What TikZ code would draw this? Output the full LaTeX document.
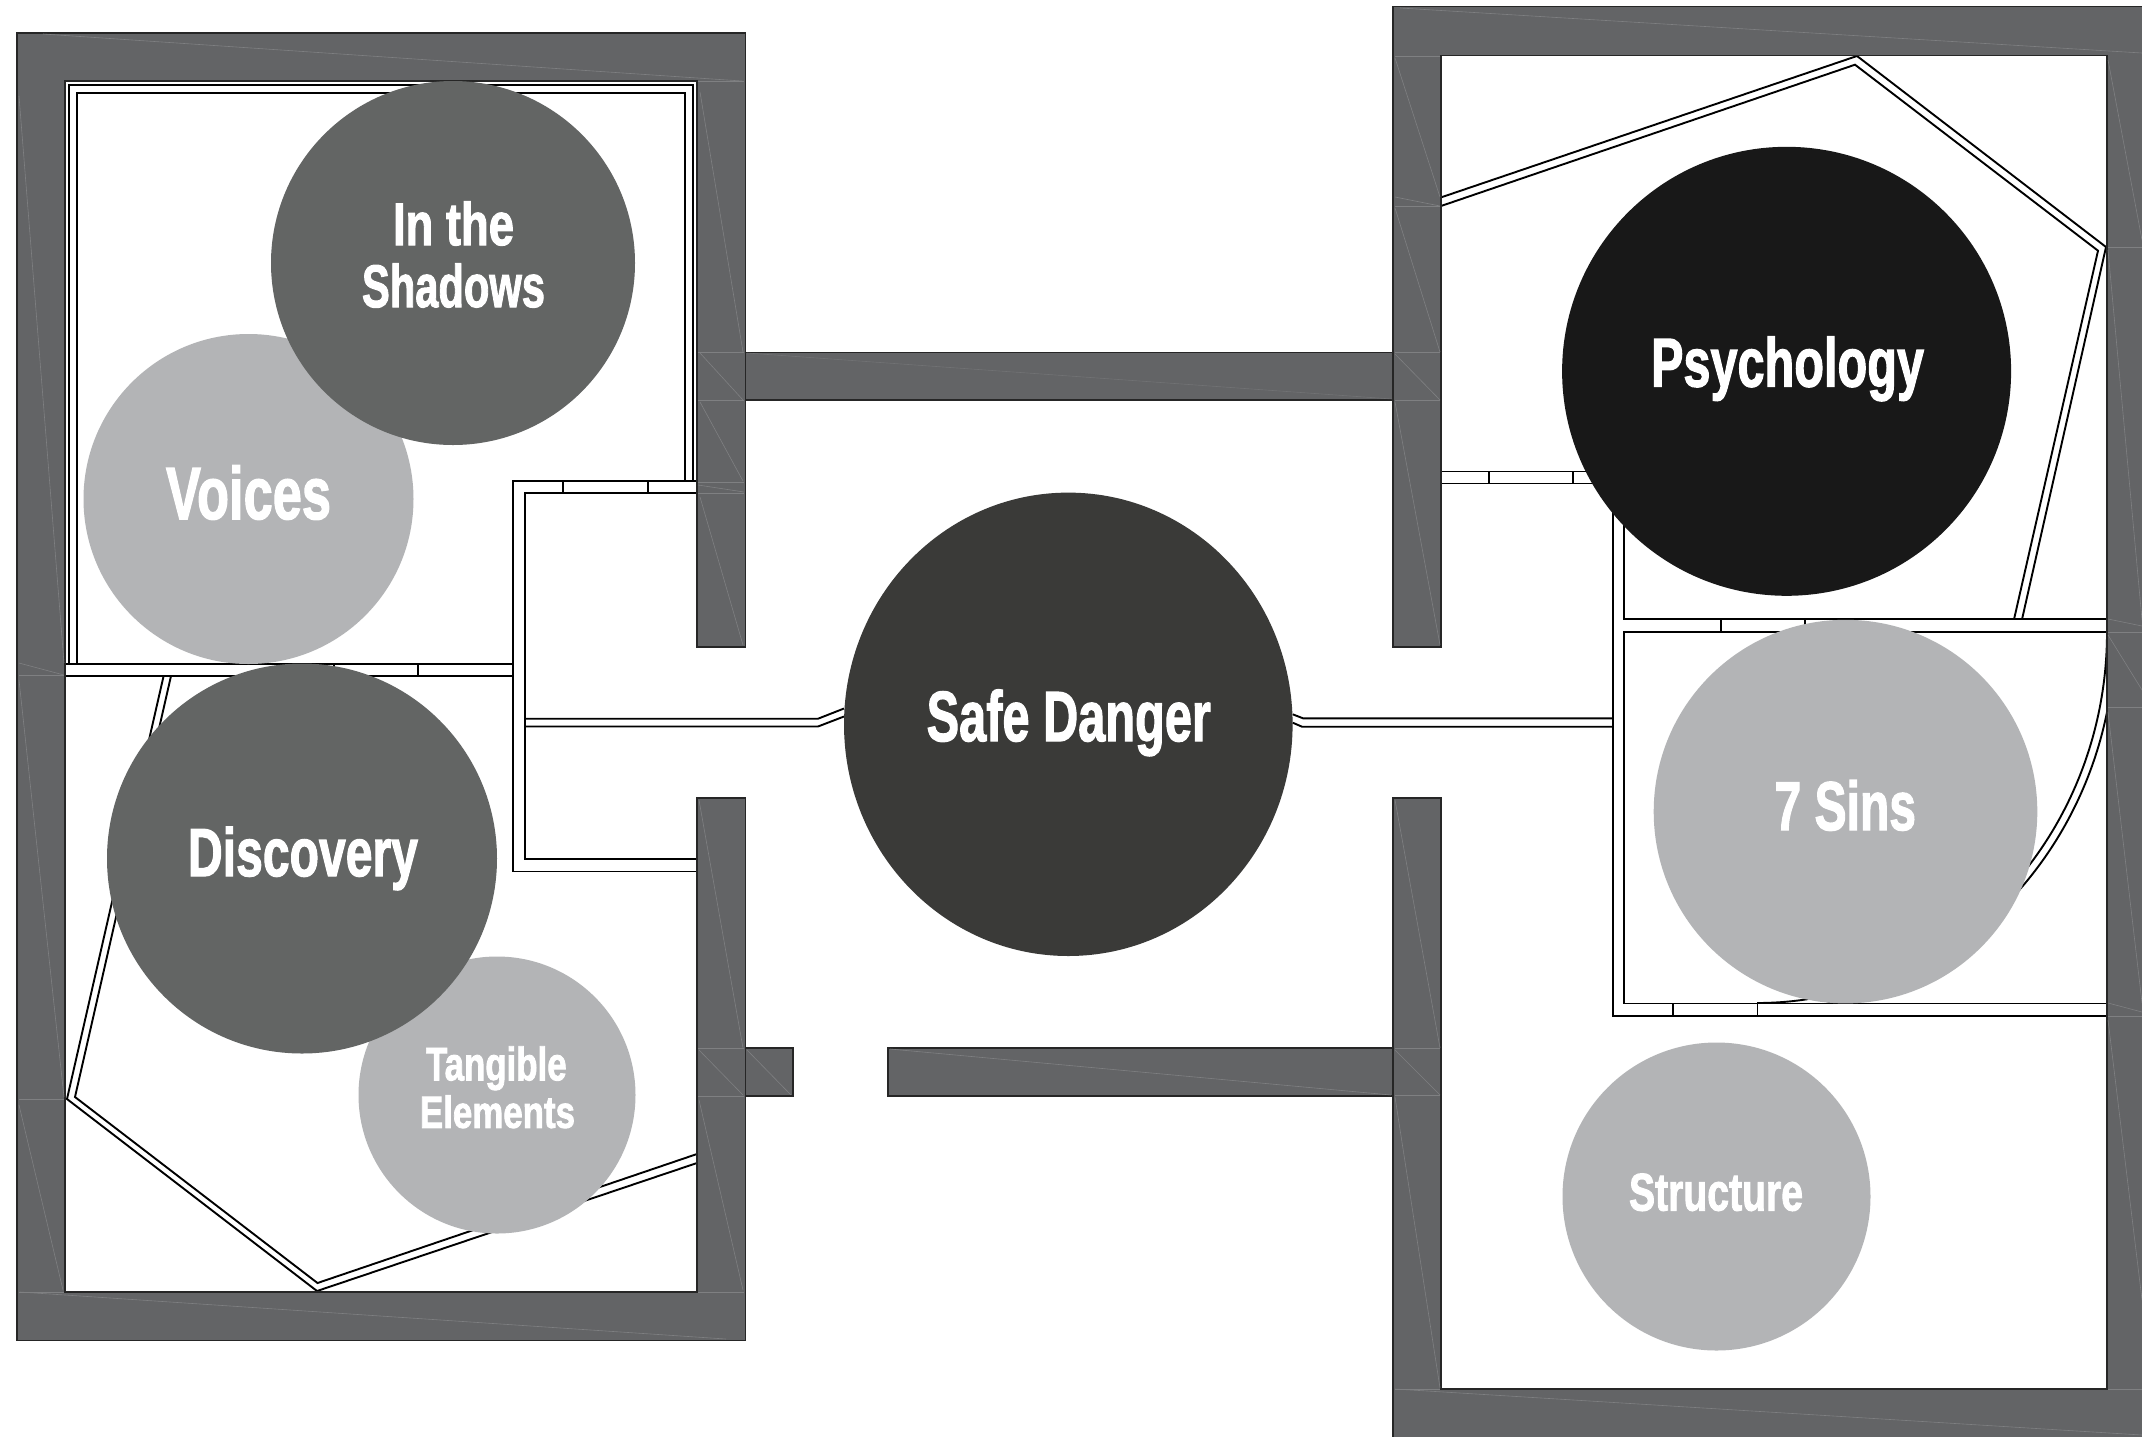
\documentclass[tikz,border=0pt]{standalone}
\usepackage{fontspec}
\usepackage{graphicx}
\usetikzlibrary{shapes.geometric}
\newfontfamily\lblfont[FakeBold=2]{Liberation Sans Bold}
\definecolor{wallc}{HTML}{636466}
\definecolor{seam}{HTML}{7F8082}
\definecolor{midc}{HTML}{636564}
\definecolor{lightc}{HTML}{B3B4B6}
\definecolor{safec}{HTML}{3A3A38}
\definecolor{psyc}{HTML}{181818}
\newcommand{\lab}[3]{\resizebox{#1pt}{\height}{\fontsize{#2pt}{#2pt}\lblfont #3}}
\tikzset{
  wall/.style={fill=wallc,draw=black!85,line width=1.6pt,line join=miter},
  seamline/.style={draw=seam,line width=0.6pt},
  dbl/.style={draw=black,line width=1.9pt,line join=miter},
  bubble/.style={circle,inner sep=0pt,outer sep=0pt,draw=none},
  bubmid/.style={bubble,fill=midc},
  bublight/.style={bubble,fill=lightc},
  caption/.style={text=white,anchor=base,inner sep=0pt,outer sep=0pt}
}
\begin{document}
\begin{tikzpicture}[x=1pt,y=-1pt]
\clip (0,0) rectangle (2142,1436);
\fill[white] (0,0) rectangle (2142,1436);
% ---- interior partition lines, left building
\draw[dbl] (69,664) -- (69,85) -- (693,85) -- (693,481.3);
\draw[dbl] (77,664) -- (77,93) -- (685,93) -- (685,481.3);
\draw[dbl] (65,663.7) -- (513.3,663.7);
\draw[dbl] (65,676) -- (513.3,676);
\draw[dbl] (334,663.7) -- (334,676);
\draw[dbl] (418,663.7) -- (418,676);
\draw[dbl] (697,481.3) -- (513.3,481.3) -- (513.3,871.5) -- (697,871.5);
\draw[dbl] (697,493.3) -- (525.3,493.3) -- (525.3,859) -- (697,859);
\draw[dbl] (563.3,481.3) -- (563.3,493.3);
\draw[dbl] (647.7,481.3) -- (647.7,493.3);
\draw[dbl] (525.3,718.7) -- (818,718.7) -- (844,708.5);
\draw[dbl] (525.3,726.5) -- (818,726.5) -- (844,716.5);
\draw[dbl] (163.6,676) -- (67,1099) -- (317,1291) -- (697,1163);
\draw[dbl] (171,676) -- (75,1097) -- (317.5,1283) -- (697,1154);
% ---- interior partition lines, right building
\draw[dbl] (1441,197.4) -- (1857,56) -- (2106,247) -- (2022,619.4);
\draw[dbl] (1441,206) -- (1855,64.7) -- (2098,250.7) -- (2014,619.4);
\draw[dbl] (1441,471.5) -- (1613,471.5) -- (1613,1016) -- (2107,1016);
\draw[dbl] (1441,483.5) -- (1624.4,483.5) -- (1624.4,619.4) -- (2107,619.4);
\draw[dbl] (2107,632) -- (1624.4,632) -- (1624.4,1003.5) -- (2107,1003.5);
\draw[dbl] (1489,471.5) -- (1489,483.5);
\draw[dbl] (1573,471.5) -- (1573,483.5);
\draw[dbl] (1720.6,619.4) -- (1720.6,632);
\draw[dbl] (1805,619.4) -- (1805,632);
\draw[dbl] (1673,1003.5) -- (1673,1016);
\draw[dbl] (1757.5,1003.5) -- (1757.5,1016);
\draw[dbl] (1292.7,714.3) -- (1303,718.3) -- (1613,718.3);
\draw[dbl] (1292.7,722.7) -- (1302,726.7) -- (1613,726.7);
\begin{scope}
  \clip (1757,632) rectangle (2107,1003.5);
  \draw[dbl] (1757,632) ellipse [x radius=350,y radius=371];
  \draw[dbl] (1757,632) ellipse [x radius=358,y radius=379];
\end{scope}
% ---- heavy walls
\draw[wall] (17,33) -- (745.5,33) -- (745.5,646.7) -- (697,646.7) -- (697,81) -- (65,81) -- (65,1292) -- (697,1292) -- (697,798) -- (745.5,798) -- (745.5,1340.5) -- (17,1340.5) -- cycle;
\draw[wall] (1393,6.5) -- (2150,6.5) -- (2150,1445) -- (1393,1445) -- (1393,798) -- (1441,798) -- (1441,1389) -- (2107,1389) -- (2107,55.5) -- (1441,55.5) -- (1441,646.7) -- (1393,646.7) -- cycle;
\draw[wall] (745.5,352.5) rectangle (1393,400);
\draw[wall] (745.5,1048) rectangle (793,1096);
\draw[wall] (888,1048) rectangle (1393,1096);
% ---- seams in the walls
\foreach \a/\b/\c/\d in {43/34/742/81, 698/81/744/81, 19/96/64/663, 19/663/64/675, 19/675/64/675, 700/92/743/352, 698/352/744/352, 700/353/743/400, 698/400/744/400, 700/402/743/481, 698/482/744/482, 698/485/744/492, 698/493/744/493, 700/497/743/645, 19/680/64/1097, 19/1099/64/1099, 19/1105/63/1290, 19/1292/64/1292, 20/1292/726/1339, 698/1292/744/1292, 699/800/743/1048, 698/1048/744/1048, 699/1050/743/1095, 698/1096/744/1096, 699/1100/743/1290, 747/1050/791/1095, 890/1049/1391/1095,
1400/8/2142/53, 1395/56/1440/56, 1395/58/1440/197, 1395/197/1440/206, 1395/206/1440/206, 1395/208/1440/352, 1395/352/1440/352, 1395/354/1440/400, 1395/400/1440/400, 1395/402/1440/645, 1395/800/1440/1048, 1395/1048/1440/1048, 1395/1050/1440/1095, 1395/1095/1440/1095, 1395/1097/1440/1388, 1395/1389/1440/1389, 1395/1389/2142/1435, 2108/60/2142/240, 2108/247/2142/247, 2108/250/2142/620, 2108/619/2142/626, 2108/632/2142/632, 2108/635/2142/690, 2108/707/2142/707, 2108/712/2142/1003, 2108/1003/2142/1012, 2108/1016/2142/1016, 2108/1020/2142/1300, 2108/1389/2142/1389}
  \draw[seamline] (\a,\b) -- (\c,\d);
\draw[seamline,draw opacity=.5] (747,353) -- (1392,399);
% ---- bubbles
\node[bublight,minimum size=330pt] (voices) at (248.5,499) {};
\node[bubmid,minimum size=364pt] (shadows) at (453,263) {};
\node[bublight,minimum size=277pt] (tangible) at (497,1095) {};
\node[bubmid,minimum size=390pt] (discovery) at (302,858.5) {};
\node[ellipse,inner sep=0pt,outer sep=0pt,fill=safec,minimum width=448.6pt,minimum height=463.4pt] (safe) at (1068.3,724.3) {};
\node[bubble,fill=psyc,minimum size=449pt] (psych) at (1786.6,371.3) {};
\node[bublight,minimum size=383.6pt] (sins) at (1845.5,811.6) {};
\node[bublight,minimum size=308pt] (structure) at (1716.5,1196.5) {};
% ---- captions
\node[caption] (tinthe) at (453.5,245) {\lab{121}{60}{In the}};
\node[caption] (tshadows) at (453.5,307) {\lab{183}{60}{Shadows}};
\node[caption] (tvoices) at (248.5,519) {\lab{165}{74}{Voices}};
\node[caption] (tdiscovery) at (303,876) {\lab{230}{68}{Discovery}};
\node[caption] (ttangible) at (496.3,1080.3) {\lab{140.6}{47}{Tangible}};
\node[caption] (telements) at (497.5,1127.8) {\lab{155}{45}{Elements}};
\node[caption] (tsafe) at (1068.8,741) {\lab{284.3}{71}{Safe Danger}};
\node[caption] (tpsych) at (1787.5,386.5) {\lab{273}{69}{Psychology}};
\node[caption] (tsins) at (1845.3,830) {\lab{141.4}{69}{7 Sins}};
\node[caption] (tstructure) at (1716,1210.5) {\lab{174}{53}{Structure}};
\end{tikzpicture}
\end{document}
